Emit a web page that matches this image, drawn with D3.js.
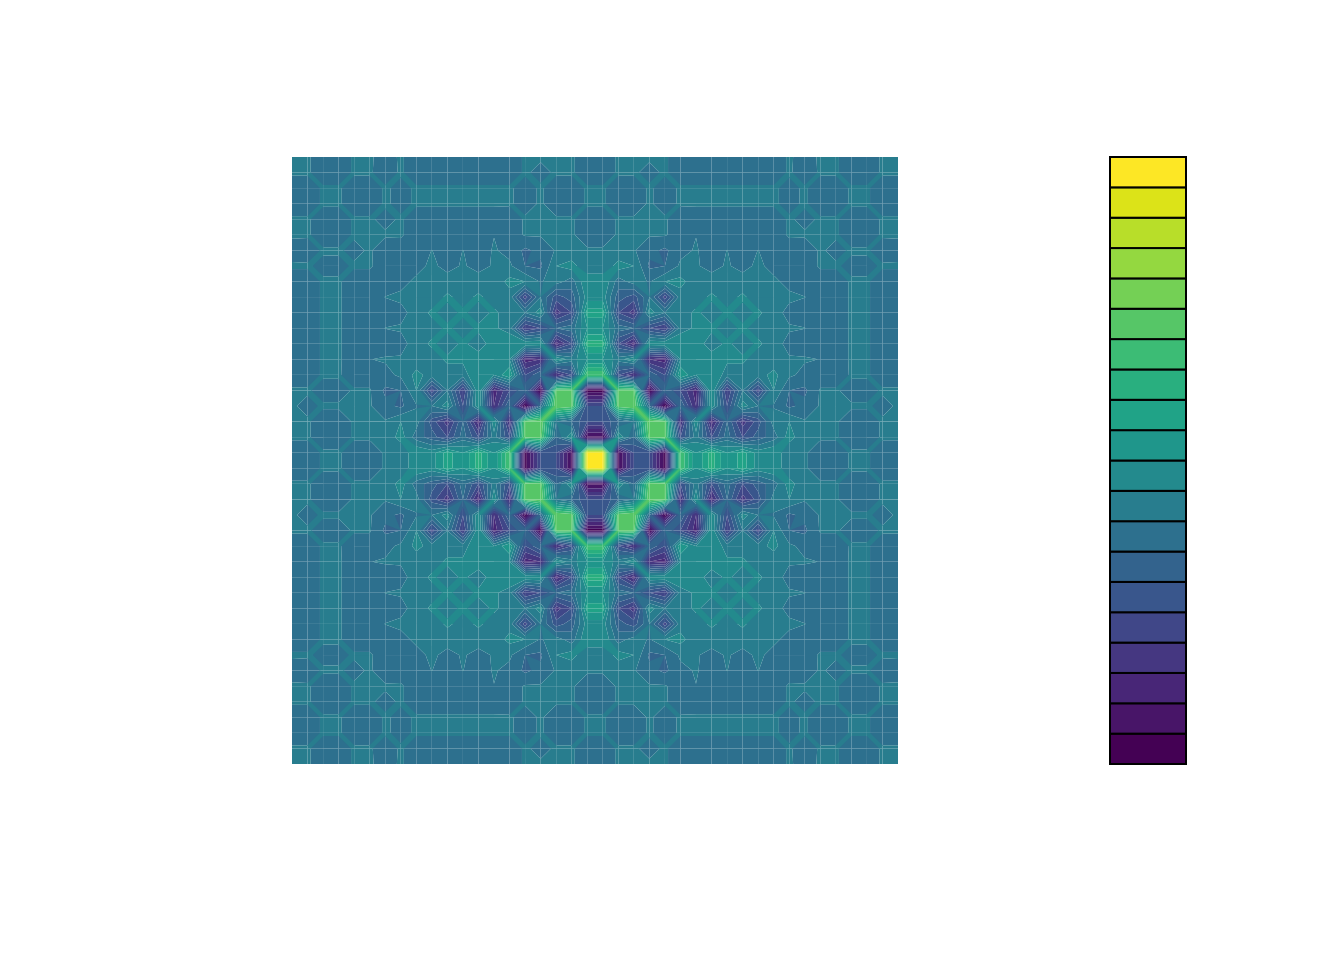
<!DOCTYPE html>
<html><head><meta charset="utf-8">
<style>html,body{margin:0;padding:0;background:#fff}svg{display:block}</style>
<script src="https://cdn.jsdelivr.net/npm/d3@7/dist/d3.min.js"></script>
</head><body><svg id="c" width="1344" height="960"></svg>
<script>
// Band colours, lowest to highest
const bandColors = ["#440154","#481568","#482677","#453781","#404788","#39568C","#33638D","#2D708E","#287D8E","#238A8D","#1F968B","#20A387","#29AF7F","#3CBC75","#56C667","#74D055","#94D840","#B8DE29","#DCE318","#FDE725"];
const levels = d3.range(0, 21);
// Values, in band units, for one quadrant (the picture is mirror-symmetric)
const quadrant = [
[19,0.8,5,5,0.5,14,10,12.5,10,11.5,9.5,10,8,8.1,7.6,7.6,8.1,8.1,7.6,7.6],
[0.8,10,7,14.5,14.5,5,8.5,5,7.5,5,6.5,7.5,9.5,8.1,8.1,8.1,7.6,7.6,8.1,8.1],
[5,7,8,15,14.5,3,10,2.5,7,3.5,5.5,8.5,9,8.1,8.1,8.1,7.6,7.6,8.1,8.1],
[5,14.5,15,7,0.5,7,3,10,5,9.5,8,7.9,6.8,7.3,8.1,8.1,8.1,8.1,7.8,8.1],
[0.5,14.5,14.5,0.5,7,5,2.5,10,4,8,4.5,9,7,6.8,8.1,8.1,7.7,7.7,8.1,8.1],
[14,5,3,7,5,11,9,10,8.5,8.5,8.6,9.3,8.2,7.7,7.5,7.5,8.1,8.1,7.6,7.6],
[10,8.5,10,3,2.5,9,9.5,9.5,9.2,9.2,8.5,8.4,8.1,8.1,7.98,7.6,8.1,8.1,7.6,7.6],
[12.5,5,2.5,10,10,10,9.5,8.5,9.2,8.5,9.2,8.4,7.7,7.5,7.6,7.6,8.1,8.1,7.6,7.6],
[10,7.5,7,5,4,8.5,9.2,9.2,8.6,9.2,8.6,8.3,8.1,8.02,7.6,7.6,8.1,8.1,7.6,7.6],
[11.5,5,3.5,9.5,8,8.5,9.2,8.5,9.2,8.6,9.2,8.4,7.7,7.5,7.6,7.6,8.1,8.1,7.6,7.6],
[9.5,6.5,5.5,8,4.5,8.6,8.5,9.2,8.6,9.2,8.4,8.3,8.2,8.02,7.6,7.6,8.1,8.1,7.6,7.6],
[10,7.5,8.5,7.9,9,9.3,8.4,8.4,8.3,8.4,8.3,8.2,7.7,7.5,7.6,7.6,8.1,8.1,7.6,7.6],
[8,9.5,9,6.8,7,8.2,8.1,7.7,8.1,7.7,8.2,7.7,7.6,7.6,8.1,8.1,7.8,7.8,8.1,8.1],
[8.1,8.1,8.1,7.3,6.8,7.7,8.1,7.5,8.02,7.5,8.02,7.5,7.6,7.5,8.1,7.8,8.1,8.1,7.6,7.7],
[7.6,8.1,8.1,8.1,8.1,7.5,7.98,7.6,7.6,7.6,7.6,7.6,8.1,8.1,8.1,8.1,7.6,7.6,8.1,8.1],
[7.6,8.1,8.1,8.1,8.1,7.5,7.6,7.6,7.6,7.6,7.6,7.6,8.1,7.8,8.1,8.1,7.6,7.6,8.1,8.1],
[8.1,7.6,7.6,8.1,7.7,8.1,8.1,8.1,8.1,8.1,8.1,8.1,7.8,8.1,7.6,7.6,8.1,8.1,7.6,7.6],
[8.1,7.6,7.6,8.1,7.7,8.1,8.1,8.1,8.1,8.1,8.1,8.1,7.8,8.1,7.6,7.6,8.1,8.1,7.6,7.6],
[7.6,8.1,8.1,7.8,8.1,7.6,7.6,7.6,7.6,7.6,7.6,7.6,8.1,7.6,8.1,8.1,7.6,7.6,8.1,8.1],
[7.6,8.1,8.1,8.1,8.1,7.6,7.6,7.6,7.6,7.6,7.6,7.6,8.1,7.7,8.1,8.1,7.6,7.6,8.1,8.1]
];
const half = quadrant.length, n = half * 2;
const fold = k => k < half ? half - 1 - k : k - half;
const value = (ix, iy) => quadrant[fold(iy)][fold(ix)];

const x = d3.scaleLinear().domain([0, n - 1]).range([292, 898]);
const y = d3.scaleLinear().domain([0, n - 1]).range([764, 157]);
const barY = d3.scaleLinear().domain([levels[0], levels[levels.length - 1]]).range([764, 157]);
const svg = d3.select("#c");

function clip(poly, keep, limit) {
  const out = [];
  poly.forEach((a, idx) => {
    const b = poly[(idx + 1) % poly.length];
    const ka = keep(a[2]), kb = keep(b[2]);
    if (ka) out.push(a);
    if (ka !== kb) {
      const t = (limit - a[2]) / (b[2] - a[2]);
      out.push([a[0] + t * (b[0] - a[0]), a[1] + t * (b[1] - a[1]), limit]);
    }
  });
  return out;
}
const pieces = [];
levels.slice(0, -1).forEach((lo, band) => {
  const hi = levels[band + 1];
  for (let j = 0; j < n - 1; j++) for (let i = 0; i < n - 1; i++) {
    let p = [[i, j, value(i, j)], [i + 1, j, value(i + 1, j)], [i + 1, j + 1, value(i + 1, j + 1)], [i, j + 1, value(i, j + 1)]];
    p = clip(p, z => z >= lo, lo);
    if (p.length) p = clip(p, z => z < hi, hi);
    if (p.length > 2) pieces.push({band, p});
  }
});
const line = d3.line().x(d => x(d[0])).y(d => y(d[1])).curve(d3.curveLinearClosed);
svg.append("g").selectAll("path").data(pieces).join("path")
  .attr("d", d => line(d.p)).attr("fill", d => bandColors[d.band]);

svg.append("g").selectAll("rect").data(bandColors).join("rect")
  .attr("x", 1110).attr("width", 76)
  .attr("y", (d, k) => barY(levels[k + 1]))
  .attr("height", (d, k) => barY(levels[k]) - barY(levels[k + 1]))
  .attr("fill", d => d).attr("stroke", "#000").attr("stroke-width", 2);
</script></body></html>
